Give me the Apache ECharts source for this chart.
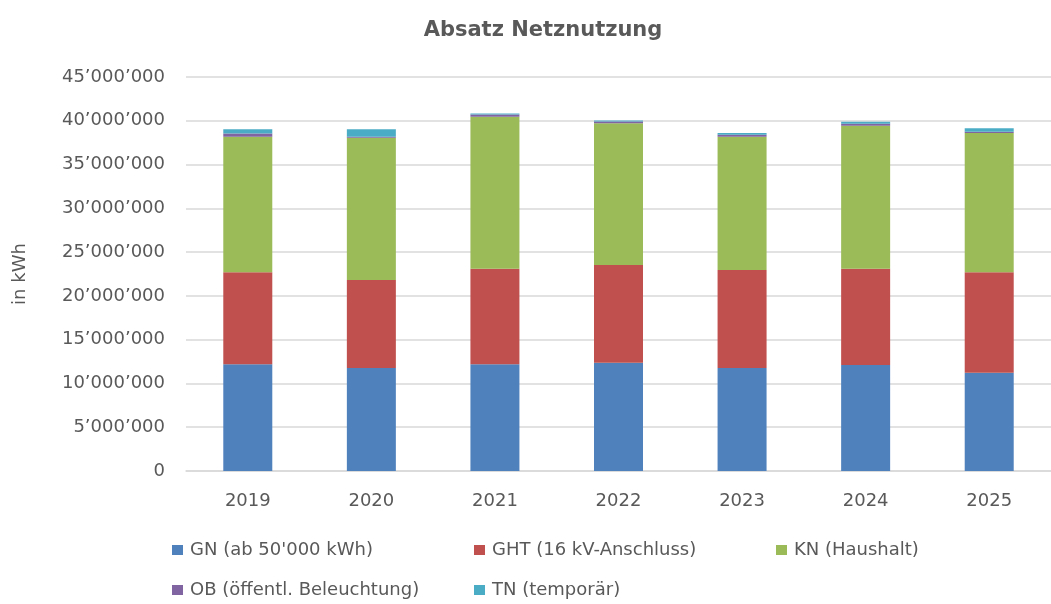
<!DOCTYPE html>
<html>
<head>
<meta charset="utf-8">
<script src="https://cdn.jsdelivr.net/npm/echarts@6/dist/echarts.min.js"></script>
<style>
  html, body { margin: 0; padding: 0; background: #fff; }
  #chart { width: 1051px; height: 604px; }
</style>
</head>
<body>
<div id="chart"></div>
<script>
const years = ["2019", "2020", "2021", "2022", "2023", "2024", "2025"];
const gn = [12200000, 11760000, 12200000, 12370000, 11760000, 12100000, 11230000];
const ght = [10490000, 10050000, 10900000, 11160000, 11200000, 11000000, 11460000];
const kn = [15500000, 16260000, 17360000, 16200000, 15220000, 16340000, 15900000];
const ob = [350000, 110000, 270000, 200000, 230000, 230000, 150000];
const tn = [500000, 850000, 100000, 100000, 200000, 230000, 420000];

const names = [
  "GN (ab 50'000 kWh)",
  "GHT (16 kV-Anschluss)",
  "KN (Haushalt)",
  "OB (öffentl. Beleuchtung)",
  "TN (temporär)",
];
const colors = ["#4F81BD", "#C0504D", "#9BBB59", "#8064A2", "#4BACC6"];
const textColor = "#595959";
const font = "'DejaVu Sans', sans-serif";

function fmt(v) {
  // 45000000 -> 45’000’000
  return String(v).replace(/\B(?=(\d{3})+(?!\d))/g, "\u2019");
}

// one vertical legend per column so the two rows line up like the original
function legendAt(left, data) {
  return {
    left: left,
    top: 541,
    height: 63,
    padding: 0,
    orient: "vertical",
    icon: "rect",
    itemWidth: 11,
    itemHeight: 10,
    itemGap: 22,
    data: data,
    textStyle: { color: textColor, fontSize: 18, fontFamily: font, padding: [0, 0, 0, 2] },
  };
}

const chart = echarts.init(document.getElementById("chart"));
const option = {
  animation: false,
  color: colors,
  title: {
    text: "Absatz Netznutzung",
    left: 538,
    textAlign: "center",
    top: 15,
    textStyle: { color: textColor, fontSize: 21, fontWeight: "bold", fontFamily: font },
  },
  legend: [
    legendAt(172, [names[0], names[3]]),
    legendAt(474, [names[1], names[4]]),
    legendAt(776, [names[2]]),
  ],
  grid: {
    left: 186,
    right: -12,
    top: 77,
    bottom: 133,
  },
  xAxis: {
    type: "category",
    data: years,
    axisLine: { lineStyle: { color: "#d9d9d9", width: 1.5 } },
    axisTick: { show: false },
    axisLabel: { color: textColor, fontSize: 18, fontFamily: font, margin: 21 },
  },
  yAxis: {
    type: "value",
    min: 0,
    max: 45000000,
    interval: 5000000,
    name: "in kWh",
    nameLocation: "middle",
    nameRotate: 90,
    nameGap: 157,
    nameTextStyle: { color: textColor, fontSize: 18, fontFamily: font },
    axisLabel: { color: textColor, fontSize: 18, fontFamily: font, margin: 21, formatter: fmt },
    splitLine: { lineStyle: { color: "#d9d9d9", width: 1.5 } },
  },
  series: [gn, ght, kn, ob, tn].map((d, i) => ({
    name: names[i],
    type: "bar",
    stack: "total",
    barWidth: 49,
    data: d,
  })),
};
chart.setOption(option);
</script>
</body>
</html>
